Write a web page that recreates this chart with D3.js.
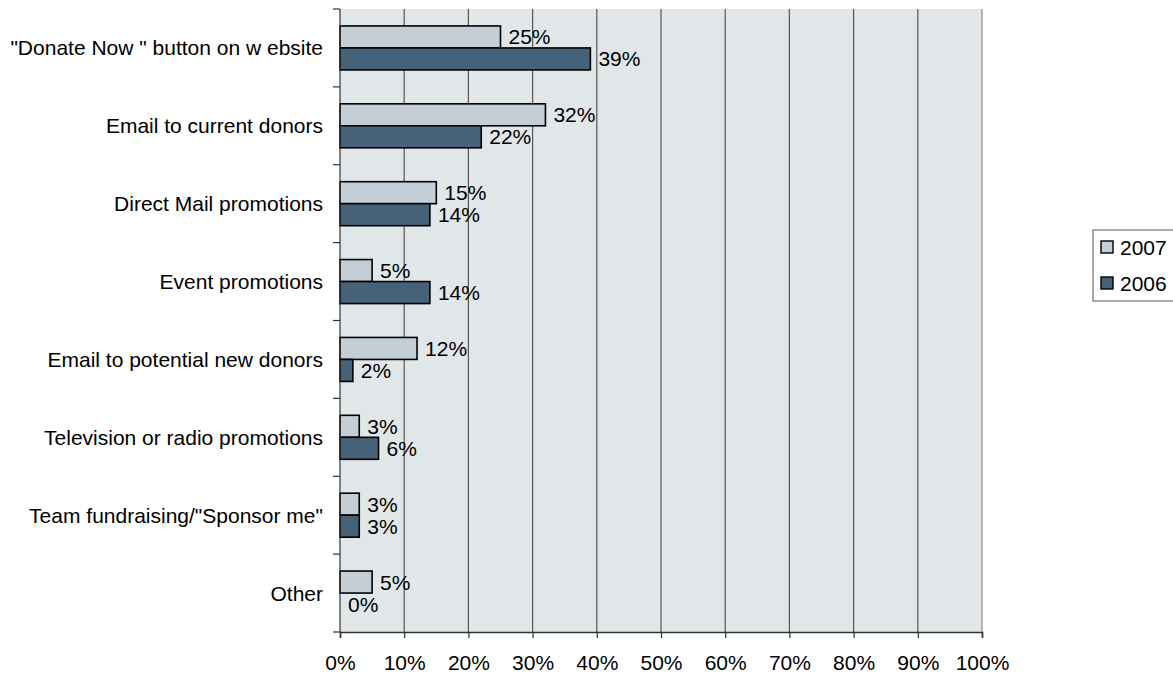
<!DOCTYPE html>
<html>
<head>
<meta charset="utf-8">
<script src="https://cdn.jsdelivr.net/npm/d3@7"></script>
<style>
  body { margin: 0; background: #fff; }
  text { font-family: "Liberation Sans", Arial, sans-serif; fill: #000; }
</style>
</head>
<body>
<div id="chart"></div>
<script>
const categories = [
    "\"Donate Now \" button on w ebsite",
    "Email to current donors",
    "Direct Mail promotions",
    "Event promotions",
    "Email to potential new  donors",
    "Television or radio promotions",
    "Team fundraising/\"Sponsor me\"",
    "Other"
];
const values2007 = [25, 32, 15, 5, 12, 3, 3, 5];
const values2006 = [39, 22, 14, 14, 2, 6, 3, 0];
const seriesNames = ["2007", "2006"];
const xTicks = [0, 10, 20, 30, 40, 50, 60, 70, 80, 90, 100];

const width = 1173, height = 677;
const plotLeft = 340, plotRight = 982, plotTop = 9, plotBottom = 632;
const fontSize = "21px";
const colors = { "2007": "#c3ced6", "2006": "#456279" };

const svg = d3.select("#chart").append("svg")
    .attr("width", width)
    .attr("height", height);

const x = d3.scaleLinear().domain([0, 100]).range([plotLeft, plotRight]);
const y = d3.scaleBand().domain(categories).range([plotTop, plotBottom]);
const inner = d3.scaleBand().domain(seriesNames)
    .range([0, y.bandwidth()]).paddingOuter(0.77);

// plot background
svg.append("rect")
    .attr("x", plotLeft).attr("y", plotTop)
    .attr("width", plotRight - plotLeft).attr("height", plotBottom - plotTop)
    .attr("fill", "#e1e6e9");

// vertical gridlines
svg.append("g").selectAll("line")
    .data(xTicks.slice(1))
    .enter().append("line")
    .attr("x1", d => x(d)).attr("x2", d => x(d))
    .attr("y1", plotTop).attr("y2", plotBottom)
    .attr("stroke", d => d === 100 ? "#888" : "#555")
    .attr("stroke-width", 1.2);

// bars
const rows = categories.map((c, i) => ({ cat: c, "2007": values2007[i], "2006": values2006[i] }));
const groups = svg.append("g").selectAll("g")
    .data(rows)
    .enter().append("g")
    .attr("transform", d => `translate(0,${y(d.cat)})`);

seriesNames.forEach(s => {
    groups.filter(d => d[s] > 0).append("rect")
        .attr("x", x(0))
        .attr("y", inner(s))
        .attr("width", d => x(d[s]) - x(0))
        .attr("height", inner.bandwidth())
        .attr("fill", colors[s])
        .attr("stroke", "#000")
        .attr("stroke-width", 1.6);
});
seriesNames.forEach(s => {
    groups.append("text")
        .attr("x", d => x(d[s]) + 8)
        .attr("y", inner(s) + inner.bandwidth() / 2)
        .attr("dy", "0.36em")
        .style("font-size", fontSize)
        .text(d => d[s] + "%");
});

// y axis
const yAxis = svg.append("g")
    .attr("transform", `translate(${plotLeft},0)`);
yAxis.append("line")
    .attr("x1", 0).attr("x2", 0).attr("y1", plotTop).attr("y2", plotBottom)
    .attr("stroke", "#333").attr("stroke-width", 1.2);
yAxis.selectAll(".tick")
    .data(categories.map(c => y(c)).concat([plotBottom]))
    .enter().append("line")
    .attr("x1", -7).attr("x2", 0)
    .attr("y1", d => d).attr("y2", d => d)
    .attr("stroke", "#333").attr("stroke-width", 1.2);
yAxis.selectAll("text")
    .data(categories)
    .enter().append("text")
    .attr("x", -17)
    .attr("y", d => y(d) + y.bandwidth() / 2)
    .attr("dy", "0.36em")
    .attr("text-anchor", "end")
    .style("font-size", fontSize)
    .text(d => d);

// x axis
const xAxis = svg.append("g")
    .attr("transform", `translate(0,${plotBottom})`)
    .call(d3.axisBottom(x).tickValues(xTicks).tickFormat(d => d + "%").tickSize(6).tickPadding(17));
xAxis.select(".domain").attr("stroke", "#333").attr("stroke-width", 1.6);
xAxis.selectAll(".tick line").attr("stroke", "#333").attr("stroke-width", 1.2);
xAxis.selectAll(".tick text")
    .style("font-size", fontSize)
    .style("font-family", "'Liberation Sans', Arial, sans-serif")
    .attr("fill", "#000");

// legend
const legend = svg.append("g").attr("transform", "translate(1093,230)");
legend.append("rect")
    .attr("x", 0).attr("y", 0)
    .attr("width", 100).attr("height", 71)
    .attr("fill", "#fff")
    .attr("stroke", "#555");
seriesNames.forEach((s, i) => {
    const ly = 17 + i * 36;
    legend.append("rect")
        .attr("x", 8).attr("y", ly - 6)
        .attr("width", 12).attr("height", 12)
        .attr("fill", colors[s])
        .attr("stroke", "#000")
        .attr("stroke-width", 1.4);
    legend.append("text")
        .attr("x", 27).attr("y", ly)
        .attr("dy", "0.36em")
        .style("font-size", fontSize)
        .text(s);
});
</script>
</body>
</html>
